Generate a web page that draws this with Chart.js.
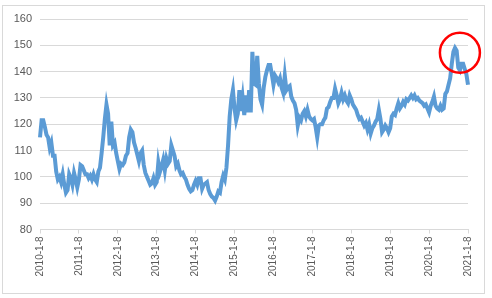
<!DOCTYPE html>
<html lang="zh">
<head>
    <meta charset="UTF-8">
    <title>Index 2010-2021</title>
    <script src="https://cdn.jsdelivr.net/npm/chart.js"></script>
    <style>
        body {
            margin: 0;
            background: #ffffff;
        }
        .wrap {
            position: relative;
            width: 492px;
            height: 298px;
        }
        .frame {
            position: absolute;
            left: 2px;
            top: 5px;
            width: 483px;
            height: 289px;
            box-sizing: border-box;
            border: 1px solid #d9d9d9;
            pointer-events: none;
        }
    </style>
</head>
<body>
    <div class="wrap">
        <canvas id="myChart" width="492" height="298"></canvas>
        <div class="frame"></div>
    </div>

    <script>
        // x-axis tick labels, one per year
        const tickLabels = ['2010-1-8', '2011-1-8', '2012-1-8', '2013-1-8', '2014-1-8', '2015-1-8',
                            '2016-1-8', '2017-1-8', '2018-1-8', '2019-1-8', '2020-1-8', '2021-1-8'];
        const perYear = 24; // roughly two readings per month

        // values, half-month steps
        const y2010 = [115, 121.5, 121.5, 119, 116, 115, 111, 113, 108, 108, 102, 99,
                       100, 98, 101, 97, 94, 95, 101, 99.5, 97, 101.5, 99, 96];
        const y2011 = [99, 104.5, 104, 102.5, 101, 101, 99.5, 100.5, 99, 101, 99, 98,
                       102, 103.5, 109, 115, 122, 127.5, 124, 112, 121, 112, 113, 109];
        const y2012 = [106, 103, 105, 104.5, 105.5, 108, 109, 115, 118, 117, 113, 111,
                       108.5, 106, 109, 110, 104.5, 101.5, 100, 98.5, 97, 97.5, 99.5, 97];
        const y2013 = [98, 105.5, 102, 104, 106.5, 102.5, 107, 105, 106, 112, 110, 108,
                       104, 105, 102.5, 101, 101.5, 100, 99, 97, 95.5, 94.5, 95, 97];
        const y2014 = [98.5, 97, 99.5, 99.5, 95.5, 97, 97.5, 98, 95, 93.5, 92.5, 92,
                       91, 92.5, 94.5, 94, 98, 100.5, 99, 103.5, 112, 123, 129.5, 133];
        const y2015 = [126, 121.5, 124, 133, 125, 130, 123.5, 131, 124.5, 133, 124.5, 147.5,
                       135.5, 135, 146, 135.5, 129.5, 127.5, 134, 138, 140.5, 142.5, 142.5, 139];
        const y2016 = [135, 138.5, 137.5, 136, 137.5, 134, 132, 138.5, 133, 134, 134.5, 130.5,
                       129, 128, 125.5, 119.5, 122.5, 121.5, 124, 125, 123, 125.5, 123, 122];
        const y2017 = [121.5, 122, 119, 115, 119.5, 120, 120, 121.5, 122.5, 126, 126.5, 128.5,
                       130, 130, 133.5, 131, 128, 129.5, 132, 129.5, 131, 129, 128, 131];
        const y2018 = [129.5, 127.5, 126.5, 125.5, 123.5, 122, 122.5, 121, 119.5, 120.5, 118, 120,
                       116.5, 118.5, 119.5, 121, 122, 125.5, 122, 117, 118, 119.5, 118.5, 117];
        const y2019 = [118.5, 123, 124, 123.5, 126, 128, 126, 127, 128.5, 127.5, 129.5, 129,
                       130, 131, 130, 131, 129.5, 130, 129, 128.5, 128, 127, 127.5, 126];
        const y2020 = [124.5, 127, 128.5, 130.5, 127, 126, 125.5, 127, 125.5, 126, 131.5, 132.5,
                       135, 137.5, 143, 147.5, 149, 148, 141.5, 140.5, 143, 143, 141];
        const y2021 = [139, 135];

        // red ring around the recent peak (category index, value, radius px)
        const markIndex = 259;
        const markValue = 147.2;
        const markRadius = 20;

        const values = [].concat(y2010, y2011, y2012, y2013, y2014, y2015,
                                 y2016, y2017, y2018, y2019, y2020, y2021);
        const labels = values.map((v, i) => i % perYear === 0 ? tickLabels[i / perYear] : '');

        const ringPlugin = {
            id: 'ring',
            afterDatasetsDraw(chart) {
                const c = chart.ctx;
                const x = chart.scales.x.getPixelForValue(markIndex);
                const y = chart.scales.y.getPixelForValue(markValue);
                c.save();
                c.beginPath();
                c.arc(x, y, markRadius, 0, Math.PI * 2);
                c.strokeStyle = '#ff0000';
                c.lineWidth = 2.5;
                c.stroke();
                c.restore();
            }
        };

        const ctx = document.getElementById('myChart').getContext('2d');
        const myChart = new Chart(ctx, {
            type: 'line',
            data: {
                labels: labels,
                datasets: [{
                    data: values,
                    borderColor: '#5b9bd5',
                    borderWidth: 4,
                    pointRadius: 0,
                    tension: 0,
                    fill: false
                }]
            },
            options: {
                responsive: false,
                animation: false,
                layout: {
                    padding: { top: 19, right: 24, bottom: 0, left: 0 }
                },
                plugins: {
                    legend: { display: false },
                    tooltip: { enabled: false }
                },
                scales: {
                    x: {
                        type: 'category',
                        offset: false,
                        afterFit: (s) => { s.height = 68.5; },
                        border: { display: true, color: '#d9d9d9' },
                        grid: {
                            offset: false,
                            drawOnChartArea: false,
                            drawTicks: true,
                            tickLength: 4,
                            color: (c) => c.index % perYear === 0 ? '#d9d9d9' : 'rgba(0,0,0,0)'
                        },
                        ticks: {
                            autoSkip: false,
                            maxRotation: 90,
                            minRotation: 90,
                            padding: 3,
                            color: '#595959',
                            font: { family: 'Liberation Sans', size: 10 },
                            callback: (v, i) => labels[i]
                        }
                    },
                    y: {
                        min: 80,
                        max: 160,
                        afterFit: (s) => { s.width = 40; },
                        border: { display: false },
                        grid: { color: '#d9d9d9', drawTicks: false },
                        ticks: {
                            stepSize: 10,
                            padding: 8,
                            color: '#595959',
                            font: { family: 'Liberation Sans', size: 11 }
                        }
                    }
                }
            },
            plugins: [ringPlugin]
        });
    </script>
</body>
</html>
